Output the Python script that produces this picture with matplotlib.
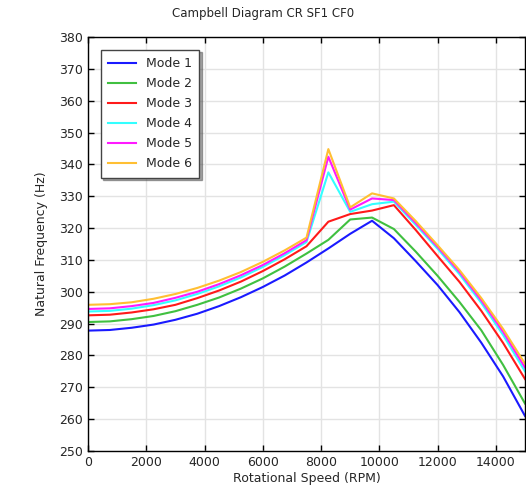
import matplotlib
matplotlib.use("Agg")
import matplotlib.pyplot as plt

speed = [0, 750, 1500, 2250, 3000, 3750, 4500, 5250, 6000, 6750, 7500,
         8250, 9000, 9750, 10500, 11250, 12000, 12750, 13500, 14250, 15000]

mode1 = [287.8, 288.0, 288.7, 289.7, 291.2, 293.1, 295.5, 298.3, 301.5, 305.1, 309.2,
         313.6, 318.2, 322.3, 316.8, 309.6, 302.1, 293.6, 284.0, 273.4, 261.0]
mode2 = [290.5, 290.7, 291.4, 292.4, 293.9, 295.9, 298.2, 301.0, 304.2, 307.9, 312.0,
         316.3, 322.7, 323.3, 319.7, 312.6, 305.0, 296.8, 287.9, 277.0, 264.9]
mode3 = [292.6, 292.8, 293.5, 294.5, 295.9, 298.0, 300.4, 303.2, 306.5, 310.2, 314.3,
         322.0, 324.4, 325.5, 327.2, 319.4, 311.2, 303.1, 294.0, 283.9, 272.6]
mode4 = [293.8, 294.0, 294.7, 295.8, 297.3, 299.3, 301.7, 304.5, 307.8, 311.5, 315.6,
         337.5, 325.1, 327.5, 328.3, 321.0, 313.5, 305.5, 296.5, 286.4, 275.0]
mode5 = [294.6, 294.8, 295.5, 296.5, 298.1, 300.0, 302.4, 305.2, 308.4, 312.1, 316.2,
         342.4, 325.8, 329.3, 328.8, 321.6, 314.1, 306.2, 297.3, 287.4, 276.2]
mode6 = [295.9, 296.1, 296.7, 297.8, 299.3, 301.2, 303.5, 306.2, 309.4, 313.0, 317.0,
         344.8, 326.5, 330.9, 329.3, 322.2, 314.6, 306.8, 298.0, 288.3, 277.4]

modes = [mode1, mode2, mode3, mode4, mode5, mode6]
labels = ["Mode 1", "Mode 2", "Mode 3", "Mode 4", "Mode 5", "Mode 6"]
colors = ["#1a1aff", "#40c040", "#ff1a1a", "#33ffff", "#ff1aff", "#ffbf33"]

xticks = [0, 2000, 4000, 6000, 8000, 10000, 12000, 14000]
yticks = list(range(250, 381, 10))

txt = "#262626"
fig = plt.figure(figsize=(5.26, 4.91), dpi=100)
ax = fig.add_axes([88/526, 1 - 451/491, (525 - 88)/526, (451 - 37)/491])

for m, lab, c in zip(modes, labels, colors):
    ax.plot(speed, m, color=c, lw=1.5, label=lab)

ax.set_xlim(0, 15000)
ax.set_ylim(250, 380)
ax.set_xticks(xticks)
ax.set_yticks(yticks)
ax.grid(True, color="#e3e3e3", lw=1.0)
ax.set_axisbelow(True)
ax.tick_params(direction="in", top=True, right=True, labelsize=9,
               labelcolor=txt, length=4, width=1)
for s in ax.spines.values():
    s.set_linewidth(1.0)
    s.set_color("black")

ax.set_xlabel("Rotational Speed (RPM)", fontsize=9, color=txt, labelpad=2)
ax.set_ylabel("Natural Frequency (Hz)", fontsize=9, color=txt, labelpad=8)
fig.text(0.5, 1 - 13/491, "Campbell Diagram CR SF1 CF0", ha="center", va="center",
         fontsize=8.5, color=txt)

leg = ax.legend(loc="upper left", fontsize=9, handlelength=2.2, labelspacing=0.56,
                borderaxespad=1.0, fancybox=False, shadow=True, framealpha=1,
                edgecolor="#444444", borderpad=0.6, handletextpad=0.8)
leg.get_frame().set_linewidth(1.0)
for t in leg.get_texts():
    t.set_color(txt)

fig.savefig("out.png", dpi=100)
